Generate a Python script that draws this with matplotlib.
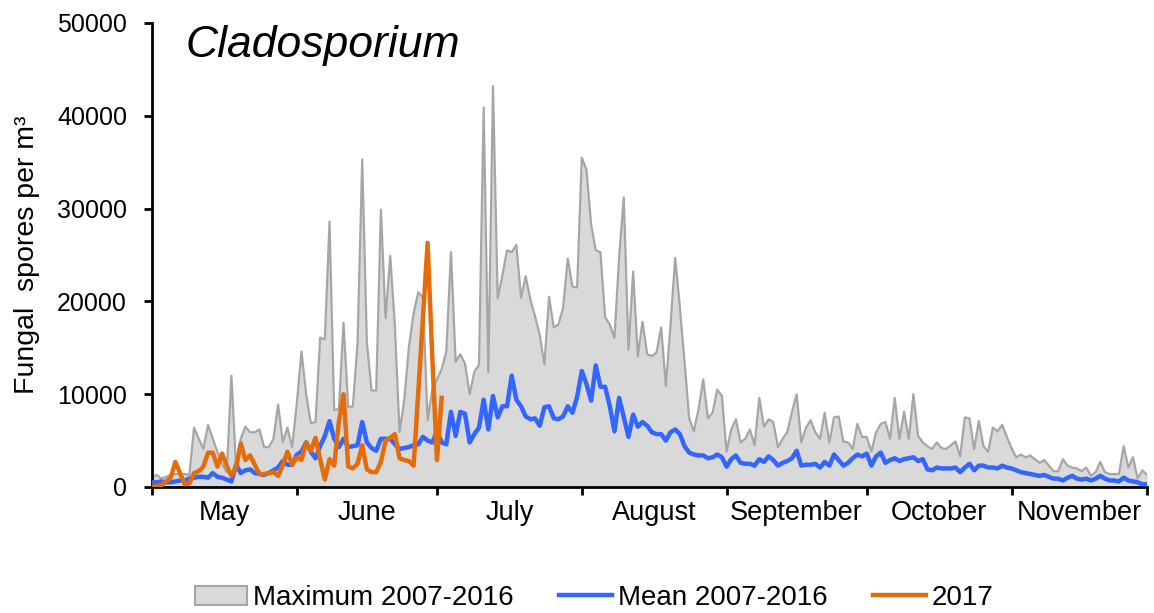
import numpy as np
import matplotlib
matplotlib.use("Agg")
import matplotlib.pyplot as plt
from matplotlib.patches import Patch
from matplotlib.lines import Line2D

# ---------------- data (daily values, 1 May .. 30 Nov) ----------------
months = ["May", "June", "July", "August", "September", "October", "November"]
month_days = [31, 30, 31, 31, 30, 31, 30]

max_2007_2016 = [
    1100, 1300, 900, 1100, 1300, 1400, 1400, 1400, 1300, 6400,
    5200, 4100, 6700, 5200, 3800, 2500, 1600, 12000, 2100, 5200,
    6500, 5900, 5900, 6200, 4300, 4300, 5200, 8900, 4800, 6400,
    4300, 9000, 14600, 10000, 6900, 7000, 16100, 15900, 28600, 8300,
    8400, 17700, 8600, 8700, 15500, 35300, 15600, 10400, 10400, 29900,
    18200, 24900, 17300, 5900, 9400, 15100, 18700, 21000, 20400, 7200,
    10500, 11600, 12700, 14600, 25300, 13500, 14300, 13300, 10000, 12400,
    13200, 40900, 12400, 43200, 20300, 22800, 25500, 25300, 26100, 20400,
    22700, 20200, 18400, 16400, 13200, 20500, 17200, 17500, 19300, 24600,
    21600, 21500, 35500, 34200, 28300, 25500, 25300, 18300, 17500, 16100,
    24800, 31200, 14800, 23200, 14100, 17800, 14300, 14100, 14500, 17200,
    10900, 17500, 24700, 19400, 13500, 7400, 6000, 8400, 11600, 7400,
    8000, 10500, 9800, 3800, 6200, 7300, 4800, 5200, 6200, 4500,
    9600, 6500, 7300, 7000, 4300, 5200, 5900, 8100, 10000, 4800,
    6400, 7200, 5900, 5200, 8000, 4800, 7500, 7600, 4900, 4800,
    4100, 6800, 5400, 5400, 3800, 5900, 6800, 7000, 5200, 9600,
    5200, 8100, 5200, 10000, 5500, 4800, 4400, 4100, 4800, 4200,
    4100, 4500, 4900, 3300, 7500, 7400, 4100, 7100, 4400, 3800,
    6400, 6000, 6700, 5400, 4200, 3200, 3500, 3200, 3400, 3000,
    2600, 2900, 2300, 1700, 1700, 3000, 2300, 2100, 2000, 1700,
    2100, 1200, 1600, 2700, 1600, 1400, 1400, 1400, 4400, 2100,
    3200, 900, 1800, 1300,
]

mean_2007_2016 = [
    500, 500, 600, 500, 500, 600, 700, 700, 900, 1000,
    1100, 1100, 1000, 1500, 1100, 1000, 800, 600, 2400, 1500,
    1800, 1900, 1500, 1400, 1300, 1500, 1800, 2100, 2800, 2400,
    2400, 3500, 3800, 4800, 3800, 3100, 4400, 5500, 7100, 5200,
    4300, 5200, 4300, 4400, 4500, 7000, 4800, 4200, 3900, 5200,
    5200, 5200, 4600, 4100, 4200, 4300, 4500, 4600, 5400, 5000,
    4800, 6000, 4800, 4600, 8100, 5500, 8100, 7900, 4800, 5700,
    6400, 9400, 6200, 9800, 7500, 8700, 8700, 12000, 9400, 8700,
    7600, 7300, 7400, 6600, 8600, 8700, 7400, 7300, 7600, 8700,
    8000, 9700, 12500, 11100, 9300, 13100, 10800, 10800, 8700, 6000,
    9600, 7500, 5400, 7800, 6500, 7000, 6600, 5900, 5700, 5700,
    5000, 5900, 6200, 5700, 4400, 3700, 3500, 3400, 3400, 3100,
    3200, 3500, 3200, 2200, 3000, 3400, 2600, 2500, 2500, 2300,
    3000, 2700, 3300, 2900, 2300, 2600, 2800, 3100, 3900, 2300,
    2400, 2400, 2500, 2100, 2700, 2300, 3500, 2900, 2300, 2600,
    3100, 3500, 3300, 3600, 2300, 3300, 3700, 2600, 2900, 3100,
    2800, 3000, 3100, 3200, 2800, 3000, 1900, 1800, 2100, 2000,
    2000, 2000, 2100, 1600, 2100, 2500, 1800, 2300, 2300, 2100,
    2100, 2000, 2300, 2100, 2000, 1800, 1600, 1500, 1400, 1300,
    1200, 1300, 1100, 900, 900, 700, 1000, 1200, 900, 800,
    900, 700, 900, 1200, 900, 700, 700, 600, 1000, 700,
    600, 500, 300, 300,
]

y2017 = [
    0, 100, 200, 600, 1000, 2700, 1500, 300, 400, 1500,
    1700, 2200, 3700, 3700, 2200, 3600, 2300, 1200, 2100, 4700,
    2900, 3400, 2400, 1400, 1400, 1500, 1600, 1200, 2400, 3800,
    2400, 3200, 2900, 4800, 3900, 5300, 3000, 800, 3000, 2300,
    7000, 10000, 2200, 2000, 2500, 4500, 1900, 1600, 1600, 2700,
    5000, 5300, 5700, 3100, 2900, 2800, 2300, 10200, 18200, 26300,
    14000, 2900, 9600,
]

y_ticks = [0, 10000, 20000, 30000, 40000, 50000]
legend_labels = ["Maximum 2007-2016", "Mean 2007-2016", "2017"]

# ---------------- styling ----------------
plt.rcParams['font.family'] = ['Liberation Sans', 'DejaVu Sans']
GREY_FILL = '#d9d9d9'
GREY_EDGE = '#a6a6a6'
BLUE = '#3366ff'
ORANGE = '#e46c0a'

fig = plt.figure(figsize=(11.54, 6.13), dpi=100)
ax = fig.add_axes([152/1154, 1-487/613, 995/1154, 464/613])

x_all = np.arange(len(max_2007_2016))
ax.fill_between(x_all, 0, max_2007_2016, color=GREY_FILL, lw=0, zorder=1)
ax.plot(x_all, max_2007_2016, color=GREY_EDGE, lw=1.6, zorder=2)
ax.plot(np.arange(len(mean_2007_2016)), mean_2007_2016, color=BLUE, lw=3.2,
        zorder=3, solid_joinstyle='round')
ax.plot(np.arange(len(y2017)), y2017, color=ORANGE, lw=3.2, zorder=4,
        solid_joinstyle='round')

bounds = np.concatenate([[0], np.cumsum(month_days)])
bounds[-1] = bounds[-1] - 1
ax.set_xlim(0, len(max_2007_2016) - 1)
ax.set_ylim(0, 50000)

ax.set_xticks(bounds)
ax.set_xticklabels([])
mids = [(bounds[i] + bounds[i+1]) / 2 for i in range(len(months))]
ax.set_xticks(mids, minor=True)
ax.set_xticklabels(months, minor=True, fontsize=19.5)
ax.tick_params(axis='x', which='major', direction='out', length=6, width=2)
ax.tick_params(axis='x', which='minor', length=0, pad=9)

ax.set_yticks(y_ticks)
ax.set_yticklabels([str(v) for v in y_ticks], fontsize=18)
ax.tick_params(axis='y', direction='out', length=6, width=2, pad=12)

for s in ['top', 'right']:
    ax.spines[s].set_visible(False)
for s in ['left', 'bottom']:
    ax.spines[s].set_linewidth(2)
    ax.spines[s].set_color('black')

ax.set_ylabel("Fungal  spores per m\u00b3", fontsize=20.5, labelpad=12)

ax.text(0.034, 0.952, "Cladosporium", transform=ax.transAxes, fontsize=32,
        style='italic', ha='left', va='center')

handles = [Patch(facecolor=GREY_FILL, edgecolor=GREY_EDGE, lw=1.5),
           Line2D([0], [0], color=BLUE, lw=3.2),
           Line2D([0], [0], color=ORANGE, lw=3.2)]
fig.legend(handles, legend_labels, loc='center', bbox_to_anchor=(594/1154, 1-598/613),
           ncol=3, frameon=False, fontsize=20, handlelength=1.9, handletextpad=0.2,
           columnspacing=1.65, handleheight=0.7)

fig.savefig("out.png", dpi=100)
